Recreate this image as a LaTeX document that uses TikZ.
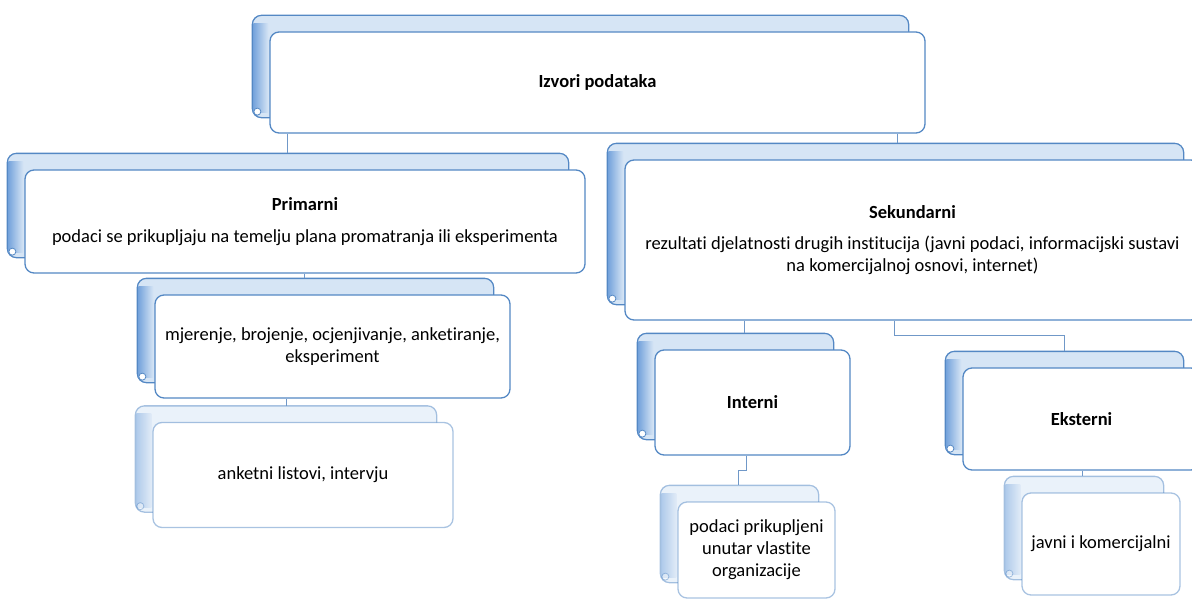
\documentclass[tikz,border=0pt]{standalone}
\usepackage{fontspec}
\setmainfont{Carlito}[Ligatures={NoCommon}]
\usetikzlibrary{backgrounds}

\definecolor{edgeblue}{RGB}{84,136,196}
\definecolor{stripblue}{RGB}{214,229,245}
\definecolor{darkstrip}{RGB}{118,164,220}
\definecolor{linkblue}{RGB}{112,152,200}

\tikzset{
  front/.style={draw=edgeblue, line width=1.3pt, rounded corners=9pt, fill=white,
    align=center, inner sep=0pt, font=\fontsize{18.5}{22}\selectfont},
  back/.style={draw=edgeblue, line width=1.3pt, rounded corners=9pt, fill=stripblue},
  link/.style={draw=linkblue, line width=1pt}
}

\begin{document}
\begin{tikzpicture}[x=1pt,y=-1pt]
\useasboundingbox (0,0) rectangle (1192,602);

% boxes
\node[front, minimum width=655, minimum height=101] (izvori) at (597.5,82.5) {\textbf{Izvori podataka}};
\node[front, minimum width=560, minimum height=103] (primarni) at (305,221.5)
  {\textbf{Primarni}\\[10pt] podaci se prikupljaju na temelju plana promatranja ili eksperimenta};
\node[front, minimum width=575, minimum height=160] (sekundarni) at (912.5,240)
  {\textbf{Sekundarni}\\[9pt] rezultati djelatnosti drugih institucija (javni podaci, informacijski sustavi\\ na komercijalnoj osnovi, internet)};
\node[front, minimum width=355, minimum height=103] (mjerenje) at (332.5,346.5)
  {mjerenje, brojenje, ocjenjivanje, anketiranje,\\ eksperiment};
\node[front, minimum width=300, minimum height=105, draw opacity=.5] (anketni) at (303,475) {anketni listovi, intervju};
\node[front, minimum width=195, minimum height=105] (interni) at (752.5,402.5) {\textbf{Interni}};
\node[front, minimum width=237, minimum height=102] (eksterni) at (1081.5,419) {\textbf{Eksterni}};
\node[front, minimum width=157, minimum height=96, draw opacity=.5] (podaci) at (756.5,550)
  {podaci prikupljeni\\ unutar vlastite\\ organizacije};
\node[front, minimum width=158, minimum height=102, draw opacity=.5] (javni) at (1101,544) {javni i komercijalni};

% scroll backs
\begin{pgfonlayer}{background}
\foreach \n/\o in {izvori/1, primarni/1, sekundarni/1, mjerenje/1, anketni/.5, interni/1, eksterni/1, podaci/.5, javni/.5}{
  \coordinate (\n-top) at ([yshift=16pt]\n.north);
  \begin{scope}[opacity=\o]
  \draw[back] ([shift={(-17,-16)}]\n.north west) rectangle ([shift={(-17,-16)}]\n.south east);
  \shade[left color=darkstrip, right color=stripblue] ([shift={(-16,-8)}]\n.north west) rectangle ([shift={(-1,-21)}]\n.south west);
  \draw[edgeblue, fill=white, line width=.8pt] ([shift={(-12,-22)}]\n.south west) circle (3.5pt);
  \end{scope}
}
\end{pgfonlayer}

% connectors
\draw[link] (izvori.south west) ++(18,0) coordinate (c1) -- (c1 |- primarni-top);
\draw[link] (izvori.south west) ++(628,0) coordinate (c2) -- (c2 |- sekundarni-top);
\draw[link] (primarni.south west) ++(280,0) coordinate (c3) -- (c3 |- mjerenje-top);
\draw[link] (mjerenje.south west) ++(132,0) coordinate (c4) -- (c4 |- anketni-top);
\draw[link] (sekundarni.south west) ++(120,0) coordinate (c5) -- (c5 |- interni-top);
\coordinate (c7) at ([xshift=102pt]eksterni.north west);
\draw[link] (sekundarni.south west) ++(270,0) coordinate (c6) -- ++(0,15) -| (c7 |- eksterni-top);
\draw[link] (interni.south west) ++(92,0) coordinate (c8) -- ++(0,15) -- ++(-8,0) coordinate (c10) -- (c10 |- podaci-top);
\draw[link] (eksterni.south west) ++(120,0) coordinate (c9) -- (c9 |- javni-top);

\end{tikzpicture}
\end{document}
